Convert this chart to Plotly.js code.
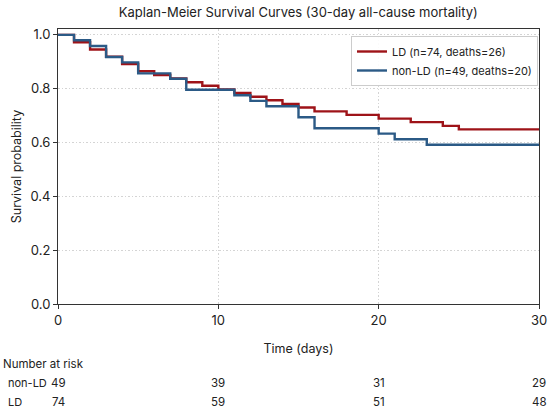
<!DOCTYPE html>
<html>
<head>
<meta charset="utf-8">
<script src="https://cdn.plot.ly/plotly-3.0.1.min.js"></script>
<style>html,body{margin:0;padding:0;background:#fff}#chart{width:550px;height:411px}</style>
</head>
<body>
<div id="chart"></div>
<script>
// Kaplan-Meier step values
const ldTime   = [0, 1, 2, 3, 4, 5, 6, 7, 8, 9, 10, 11, 12, 13, 14, 15, 16, 18, 20, 22, 24, 25, 30];
const ldSurv   = [1.000, 0.973, 0.946, 0.919, 0.892, 0.865, 0.851, 0.838, 0.824, 0.811, 0.797, 0.784, 0.770, 0.757, 0.743, 0.730, 0.716, 0.703, 0.689, 0.676, 0.662, 0.649, 0.649];
const nonTime  = [0, 1, 2, 3, 4, 5, 7, 8, 11, 12, 13, 15, 16, 20, 21, 23, 30];
const nonSurv  = [1.000, 0.980, 0.959, 0.918, 0.898, 0.857, 0.837, 0.796, 0.776, 0.755, 0.735, 0.694, 0.653, 0.633, 0.612, 0.592, 0.592];

const seriesNames = ["LD (n=74, deaths=26)", "non-LD (n=49, deaths=20)"];

// Number-at-risk table
const riskTimes    = [0, 10, 20, 30];
const riskRowNames = ["non-LD", "LD"];
const riskNonLD    = [49, 39, 31, 29];
const riskLD       = [74, 59, 51, 48];

const xTicks = [0, 10, 20, 30];
const yTicks = [0.0, 0.2, 0.4, 0.6, 0.8, 1.0];

const FONT = "Inter, Roboto, 'Noto Sans', sans-serif";
const RED = "#9e1318";
const BLUE = "#2b5a86";
const TXT = "#222";

const traces = [
  {x: ldTime, y: ldSurv, name: seriesNames[0], type: "scatter", mode: "lines",
   line: {shape: "hv", color: RED, width: 2.4}},
  {x: nonTime, y: nonSurv, name: seriesNames[1], type: "scatter", mode: "lines",
   line: {shape: "hv", color: BLUE, width: 2.4}}
];

// layout geometry
const W = 550, H = 411;
const L = 57.5, R = 11, T = 29, B = 107;
const plotW = W - L - R, plotH = H - T - B;
function paperY(py) { return (H - B - py) / plotH; }
function paperX(px) { return (px - L) / plotW; }

const annotations = [];
annotations.push({text: "Number at risk", xref: "paper", yref: "paper",
  x: paperX(0), y: paperY(364), xanchor: "left", yanchor: "middle",
  showarrow: false, font: {family: FONT, size: 11.5, color: TXT}});
const rowY = [paperY(383), paperY(401.5)];
const rowVals = [riskNonLD, riskLD];
for (let r = 0; r < 2; r++) {
  annotations.push({text: riskRowNames[r], xref: "paper", yref: "paper",
    x: paperX(5.5), y: rowY[r], xanchor: "left", yanchor: "middle",
    showarrow: false, font: {family: FONT, size: 11, color: TXT}});
  for (let i = 0; i < riskTimes.length; i++) {
    annotations.push({text: String(rowVals[r][i]), xref: "x", yref: "paper",
      x: riskTimes[i], y: rowY[r], xanchor: "center", yanchor: "middle",
      showarrow: false, font: {family: FONT, size: 11.5, color: TXT}});
  }
}

const gridStyle = {showgrid: true, gridcolor: "#d4d4d4", griddash: "1.5px,2px", gridwidth: 1};

const layout = {
  width: W, height: H,
  margin: {l: L, r: R, t: T, b: B, pad: 0},
  paper_bgcolor: "#fff", plot_bgcolor: "#fff",
  font: {family: FONT, size: 12.5, color: TXT},
  title: {text: "Kaplan-Meier Survival Curves (30-day all-cause mortality)",
          x: 0.5424, xanchor: "center", y: 1 - 12 / H, yanchor: "middle",
          font: {family: FONT, size: 13, color: TXT}},
  xaxis: Object.assign({range: [0, 30], tickvals: xTicks, ticktext: xTicks.map(String),
          zeroline: false, showline: true, linecolor: "#333", linewidth: 1, mirror: true,
          ticks: "outside", ticklen: 4, tickcolor: "#333", tickfont: {family: FONT, size: 13},
          title: {text: "Time (days)", standoff: 17, font: {family: FONT, size: 12.5}}}, gridStyle),
  yaxis: Object.assign({range: [0, 1.022], tickvals: yTicks, ticktext: yTicks.map(v => v.toFixed(1)),
          zeroline: false, showline: true, linecolor: "#333", linewidth: 1, mirror: true,
          ticks: "outside", ticklen: 4, tickcolor: "#333", tickfont: {family: FONT, size: 13},
          title: {text: "Survival probability", standoff: 6, font: {family: FONT, size: 12.5}}}, gridStyle),
  showlegend: true,
  legend: {x: paperX(538), y: paperY(36), xanchor: "right", yanchor: "top",
           bgcolor: "rgba(255,255,255,0.9)", bordercolor: "#cccccc", borderwidth: 1,
           font: {family: FONT, size: 11, color: TXT}, tracegroupgap: 0},
  annotations: annotations,
  hovermode: false
};

Plotly.newPlot("chart", traces, layout, {staticPlot: true, displayModeBar: false});
</script>
</body>
</html>
